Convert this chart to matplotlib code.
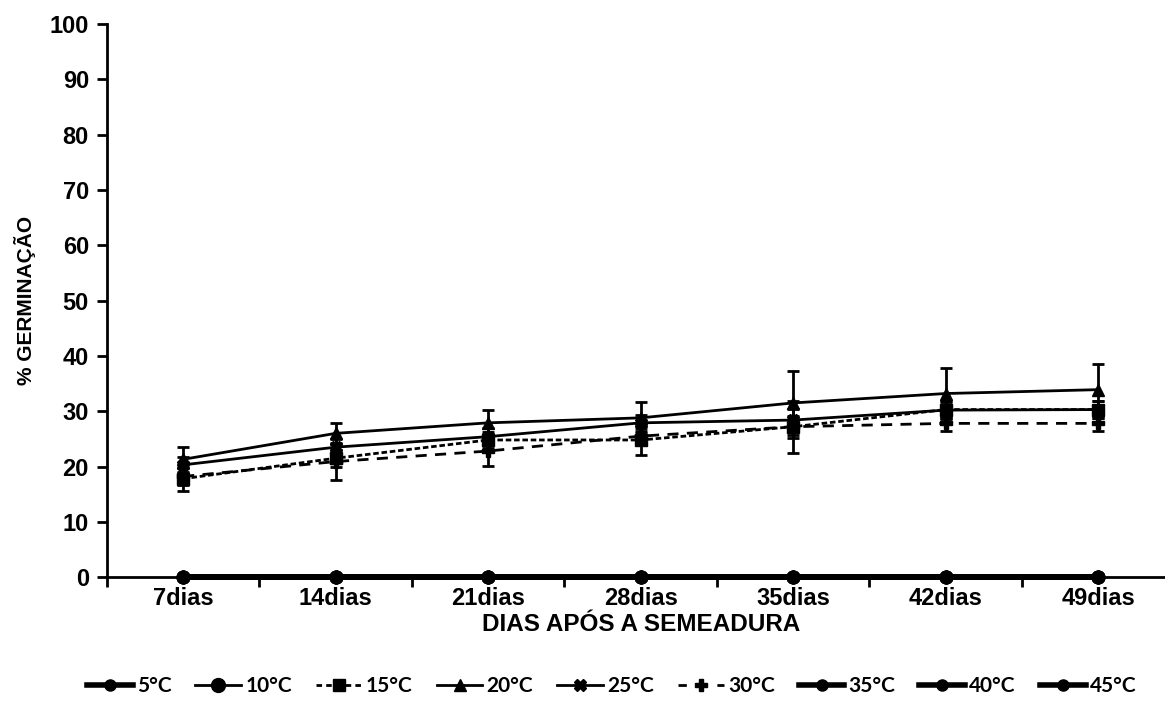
import numpy as np
import matplotlib.pyplot as plt
from matplotlib.lines import Line2D

# dados
dias = ['7dias', '14dias', '21dias', '28dias', '35dias', '42dias', '49dias']
temps = ['5°C', '10°C', '15°C', '20°C', '25°C', '30°C', '35°C', '40°C', '45°C']

g5 = [0, 0, 0, 0, 0, 0, 0]
g10 = [0, 0, 0, 0, 0, 0, 0]
g15 = [17.8, 21.5, 24.8, 24.8, 27.2, 30.3, 30.3]
g20 = [21.3, 26.0, 27.9, 28.8, 31.5, 33.2, 33.9]
g25 = [20.3, 23.5, 25.4, 27.9, 28.4, 30.2, 30.3]
g30 = [18.2, 20.9, 22.8, 25.5, 27.2, 27.8, 27.8]
g35 = [0, 0, 0, 0, 0, 0, 0]
g40 = [0, 0, 0, 0, 0, 0, 0]
g45 = [0, 0, 0, 0, 0, 0, 0]

e15 = [2.3, 1.5, 1.5, 2.7, 4.7, 1.5, 1.5]
e20 = [2.3, 1.9, 2.4, 2.8, 5.8, 4.6, 4.6]
e25 = [1.5, 1.5, 1.5, 1.5, 2.0, 1.5, 1.5]
e30 = [1.5, 3.3, 2.7, 1.5, 2.0, 1.3, 1.3]

plt.rcParams['font.family'] = ['Liberation Sans', 'DejaVu Sans']
plt.rcParams['font.weight'] = 'bold'

fig = plt.figure(figsize=(11.65, 7.09), dpi=100)
ax = fig.add_axes([0.0918, 0.186, 0.9163, 0.780])
x = np.arange(len(dias))

# series com erro
estilos = [
    (g15, e15, (0, (2, 1)), 's'),
    (g30, e30, (0, (4, 3)), 'P'),
    (g25, e25, '-', 'X'),
    (g20, e20, '-', '^'),
]
for y, e, ls, mk in estilos:
    linha, caps, barras = ax.errorbar(x, y, yerr=e, color='black', lw=2, marker=mk,
                                      markersize=8, elinewidth=2, capsize=4, capthick=2)
    linha.set_linestyle(ls)

# series em zero
ax.plot(x, g10, color='black', lw=2, marker='o', markersize=9, clip_on=False, zorder=5)
for y in [g5, g35, g40, g45]:
    ax.plot(x, y, color='black', lw=4, marker='o', markersize=9, clip_on=False, zorder=5)

ax.set_xlim(-0.5, 6.5)
ax.set_ylim(0, 100)
ax.set_yticks(range(0, 101, 10))
ax.set_xticks(x)
ax.set_xticklabels(dias)
ax.set_xticks(np.arange(-0.5, 7, 1), minor=True)
ax.tick_params(axis='x', which='major', length=0, pad=7, labelsize=17)
ax.tick_params(axis='x', which='minor', length=7, width=2, direction='out')
ax.tick_params(axis='y', length=7, width=2, direction='out', pad=6, labelsize=17)
for s in ['top', 'right']:
    ax.spines[s].set_visible(False)
ax.spines['left'].set_linewidth(2)
ax.spines['bottom'].set_linewidth(2)

ax.set_xlabel('DIAS APÓS A SEMEADURA', fontsize=17.5, fontweight='bold', labelpad=2)
ax.set_ylabel('% GERMINAÇÃO', fontsize=15, fontweight='bold', labelpad=10)

# legenda
handles = [
    Line2D([], [], color='black', lw=4, marker='o', markersize=8),
    Line2D([], [], color='black', lw=2, marker='o', markersize=10),
    Line2D([], [], color='black', lw=2, ls=(0, (2, 1.5)), marker='s', markersize=9),
    Line2D([], [], color='black', lw=2, marker='^', markersize=9),
    Line2D([], [], color='black', lw=2, marker='X', markersize=8),
    Line2D([], [], color='black', lw=2, ls=(0, (3, 4)), marker='P', markersize=8),
    Line2D([], [], color='black', lw=4, marker='o', markersize=8),
    Line2D([], [], color='black', lw=4, marker='o', markersize=8),
    Line2D([], [], color='black', lw=4, marker='o', markersize=8),
]
fig.legend(handles, temps, loc='center', bbox_to_anchor=(0.525, 0.032), ncol=9,
           frameon=False, handlelength=2.2, handletextpad=0.2, columnspacing=1.15,
           prop={'family': 'Lato', 'weight': 'bold', 'size': 15})

fig.savefig('out.png', dpi=100)
